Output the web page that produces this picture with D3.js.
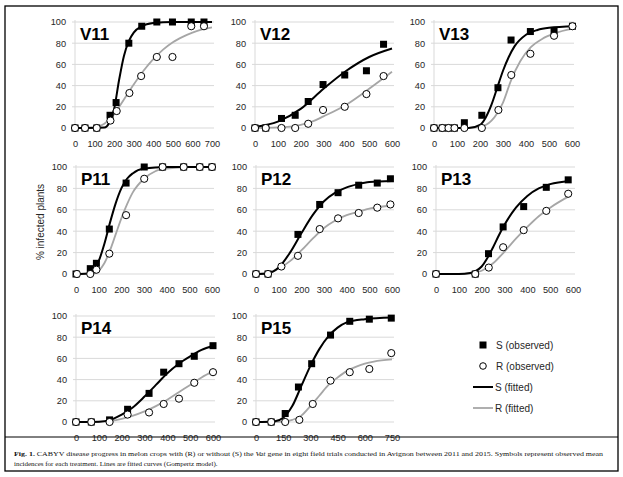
<!DOCTYPE html>
<html><head><meta charset="utf-8">
<script src="https://cdn.jsdelivr.net/npm/d3@7"></script>
<style>body{margin:0;background:#fff}svg{display:block}</style>
</head><body>
<script>
// ---------- DATA ----------
const panelNames = ["V11","V12","V13","P11","P12","P13","P14","P15"];
const xMaxes = [700,600,600,600,600,600,600,750];
const xSteps = [100,100,100,100,100,100,100,150];
const yTicks = [0,20,40,60,80,100];

const v11S = [[0,0],[51,0],[111,0],[179,12],[210,24],[275,80],[341,96],[418,100],[498,100],[594,100],[659,100]];
const v11R = [[0,0],[51,0],[111,0],[181,7],[213,16],[278,33],[338,49],[418,67],[498,67],[594,96],[659,96]];
const v11SFit = [[0,0],[150,0.5],[175,5],[200,18],[225,45],[250,68],[275,82],[300,90],[340,96],[400,99],[500,100],[700,100]];
const v11RFit = [[0,0],[100,0.5],[150,4],[200,13],[250,27],[300,41],[350,54],[400,65],[450,74],[500,81],[550,86],[600,90],[650,93],[700,95]];

const v12S = [[0,0],[47,0],[116,9],[176,12],[233,25],[298,41],[393,50],[488,54],[563,79]];
const v12R = [[0,0],[47,0],[116,0],[176,0],[233,4],[298,17],[393,20],[488,32],[563,49]];
const v12SFit = [[0,1],[100,6],[200,18],[300,37],[400,54],[500,67],[600,75]];
const v12RFit = [[0,0],[100,0.5],[200,3],[250,6],[300,11],[400,22],[500,37],[600,53]];

const v13S = [[0,0],[36,0],[63,0],[89,0],[132,5],[208,12],[278,38],[335,83],[419,91],[522,92],[602,96]];
const v13R = [[0,0],[36,0],[63,0],[89,0],[132,0],[208,0],[280,17],[336,50],[419,70],[522,87],[602,96]];
const v13SFit = [[0,0],[150,0],[200,3],[225,10],[250,22],[275,38],[300,54],[325,67],[350,77],[400,88],[450,92.5],[500,94.5],[610,96]];
const v13RFit = [[0,0],[150,0],[200,1],[250,7],[275,14],[300,24],[335,45],[375,63],[420,76],[470,84],[520,89],[610,94]];

const p11S = [[0,0],[63,5],[90,10],[147,42],[221,85],[301,100],[382,100],[475,100],[546,100],[600,100]];
const p11R = [[4,0],[63,0],[90,4],[147,19],[221,55],[301,89],[382,100],[475,100],[546,100],[600,100]];
const p11SFit = [[0,0],[50,0.5],[75,3],[100,12],[125,28],[150,48],[175,66],[200,80],[225,89],[250,94],[300,98.5],[400,100],[600,100]];
const p11RFit = [[0,0],[75,0.5],[100,3],[125,10],[150,22],[175,37],[200,52],[225,65],[250,76],[300,89],[350,96],[400,98.5],[500,100],[600,100]];

const p12S = [[0,0],[53,0],[185,37],[281,65],[362,76],[453,83],[535,85],[593,89]];
const p12R = [[0,0],[53,0],[112,7],[185,17],[281,42],[362,52],[453,57],[535,62],[593,65]];
const p12SFit = [[0,0],[50,0.5],[100,6],[150,20],[200,38],[250,55],[300,68],[350,76],[400,81],[450,84],[500,86],[600,87]];
const p12RFit = [[0,0],[50,1],[100,5],[150,12],[200,22],[250,33],[300,43],[350,50],[400,55],[450,58],[500,61],[600,64]];

const p13S = [[0,0],[172,0],[230,19],[294,44],[384,63],[483,81],[579,88]];
const p13R = [[0,0],[172,0],[231,6],[294,25],[384,41],[483,59],[579,75]];
const p13SFit = [[0,0],[100,0],[150,1],[175,3],[200,7],[225,15],[250,25],[275,36],[300,46],[350,62],[400,73],[450,80],[500,84],[585,87]];
const p13RFit = [[0,0],[100,0],[150,0.5],[200,3],[250,10],[300,21],[350,33],[400,44],[450,54],[500,62],[585,73]];

const p14S = [[0,0],[67,0],[147,2],[226,12],[320,27],[384,47],[451,55],[518,62],[600,72]];
const p14R = [[0,0],[67,0],[147,0],[226,7],[320,9],[384,17],[451,22],[518,37],[600,47]];
const p14SFit = [[0,0],[100,0.3],[150,2],[200,7],[250,14],[300,24],[350,35],[400,46],[450,55],[500,62],[550,68],[600,72]];
const p14RFit = [[0,0],[100,0],[150,1],[200,3],[250,6],[300,10],[350,15],[400,21],[450,28],[500,35],[550,42],[600,48]];

const p15S = [[0,0],[84,0],[161,8],[234,33],[307,55],[411,82],[517,95],[625,97],[746,98]];
const p15R = [[0,0],[84,0],[161,0],[239,2],[313,17],[411,39],[517,47],[625,50],[746,65]];
const p15SFit = [[0,0],[100,0.5],[150,4],[200,15],[250,34],[300,53],[350,69],[400,81],[450,89],[500,94],[600,97],[750,98.5]];
const p15RFit = [[0,0],[150,0.3],[200,2],[250,6],[300,15],[350,25],[400,35],[450,42],[500,48],[550,52],[600,55],[650,57],[750,59]];

const obsS = [v11S,v12S,v13S,p11S,p12S,p13S,p14S,p15S];
const obsR = [v11R,v12R,v13R,p11R,p12R,p13R,p14R,p15R];
const fitS = [v11SFit,v12SFit,v13SFit,p11SFit,p12SFit,p13SFit,p14SFit,p15SFit];
const fitR = [v11RFit,v12RFit,v13RFit,p11RFit,p12RFit,p13RFit,p14RFit,p15RFit];

const legendLabels = ["S (observed)","R (observed)","S (fitted)","R (fitted)"];
const yAxisTitle = "% infected plants";

// ---------- LAYOUT ----------
const W = 623, H = 477;
const boxes = [
  {x0:75,x1:212,y0:22,y1:128},{x0:255,x1:392,y0:22,y1:128},{x0:434,x1:572,y0:22,y1:128},
  {x0:76,x1:212,y0:167,y1:274},{x0:256,x1:392,y0:167,y1:274},{x0:436,x1:573,y0:167,y1:274},
  {x0:76,x1:213,y0:316,y1:422},{x0:256,x1:392,y0:316,y1:422}
];
const GRID = "#d9d9d9", GRAYLINE = "#a6a6a6", TXT = "#262626";
const SANS = "Liberation Sans, Arial, sans-serif";

const svg = d3.select("body").append("svg").attr("width",W).attr("height",H);
svg.append("rect").attr("width",W).attr("height",H).attr("fill","#fff");

panelNames.forEach((name,i)=>{
  const b = boxes[i];
  const x = d3.scaleLinear().domain([0,xMaxes[i]]).range([b.x0,b.x1]);
  const y = d3.scaleLinear().domain([0,100]).range([b.y1,b.y0]);
  const g = svg.append("g");
  g.selectAll("line.grid").data(yTicks).join("line")
    .attr("x1",b.x0-3).attr("x2",b.x1+2)
    .attr("y1",d=>y(d)).attr("y2",d=>y(d))
    .attr("stroke",GRID).attr("stroke-width",1);
  g.append("line").attr("x1",b.x0).attr("x2",b.x0).attr("y1",b.y0-2).attr("y2",b.y1)
    .attr("stroke",GRID).attr("stroke-width",1);
  const ya = d3.axisLeft(y).tickValues(yTicks).tickSize(0).tickPadding(9);
  const yg = g.append("g").attr("transform",`translate(${b.x0},0)`).call(ya);
  yg.select(".domain").remove();
  yg.selectAll("text").attr("font-family",SANS).attr("font-size",9.2).attr("fill",TXT);
  const xa = d3.axisBottom(x).tickValues(d3.range(0,xMaxes[i]+1,xSteps[i])).tickSize(0).tickPadding(12);
  const xg = g.append("g").attr("transform",`translate(0,${b.y1})`).call(xa);
  xg.select(".domain").remove();
  xg.selectAll("text").attr("font-family",SANS).attr("font-size",9.2).attr("fill",TXT);
  const line = d3.line().x(d=>x(d[0])).y(d=>y(d[1])).curve(d3.curveMonotoneX);
  g.append("path").attr("d",line(fitR[i])).attr("fill","none").attr("stroke",GRAYLINE).attr("stroke-width",1.8);
  g.append("path").attr("d",line(fitS[i])).attr("fill","none").attr("stroke","#000").attr("stroke-width",2);
  g.selectAll("rect.s").data(obsS[i]).join("rect")
    .attr("x",d=>x(d[0])-3.5).attr("y",d=>y(d[1])-3.5).attr("width",7).attr("height",7).attr("fill","#000");
  g.selectAll("circle.r").data(obsR[i]).join("circle")
    .attr("cx",d=>x(d[0])).attr("cy",d=>y(d[1])).attr("r",3.6)
    .attr("fill","#fff").attr("stroke","#000").attr("stroke-width",1);
  g.append("text").attr("x",b.x0+5).attr("y",b.y0+18).text(name)
    .attr("font-family",SANS).attr("font-weight","bold")
    .attr("font-size",17).attr("fill","#000");
});

svg.append("text").attr("transform","translate(44,222) rotate(-90)")
  .attr("text-anchor","middle").attr("font-family",SANS)
  .attr("font-size",10).attr("fill",TXT).text(yAxisTitle);

const lg = svg.append("g");
const lx = 483, lys = [345,366,387,408];
lg.append("rect").attr("x",lx-3.5).attr("y",lys[0]-3.5).attr("width",7).attr("height",7).attr("fill","#000");
lg.append("circle").attr("cx",lx).attr("cy",lys[1]).attr("r",3.3).attr("fill","#fff").attr("stroke","#000");
lg.append("line").attr("x1",473).attr("x2",493).attr("y1",lys[2]).attr("y2",lys[2]).attr("stroke","#000").attr("stroke-width",2);
lg.append("line").attr("x1",473).attr("x2",493).attr("y1",lys[3]).attr("y2",lys[3]).attr("stroke",GRAYLINE).attr("stroke-width",1.8);
legendLabels.forEach((t,k)=>{
  lg.append("text").attr("x",k<2?496:495).attr("y",lys[k]+3.5).text(t)
    .attr("font-family",SANS).attr("font-size",10).attr("fill",TXT);
});

svg.append("rect").attr("x",5).attr("y",6).attr("width",613).attr("height",465)
  .attr("fill","none").attr("stroke","#000").attr("stroke-width",1.3);
svg.append("line").attr("x1",5).attr("x2",618).attr("y1",437).attr("y2",437).attr("stroke","#000").attr("stroke-width",1);
const cap1 = svg.append("text").attr("x",14).attr("y",456)
  .attr("font-family","Liberation Serif, Times New Roman, serif").attr("font-size",7).attr("fill","#111")
  .attr("textLength",589).attr("lengthAdjust","spacingAndGlyphs");
cap1.append("tspan").attr("font-weight","bold").text("Fig. 1.");
cap1.append("tspan").text(" CABYV disease progress in melon crops with (R) or without (S) the ");
cap1.append("tspan").attr("font-style","italic").text("Vat");
cap1.append("tspan").text(" gene in eight field trials conducted in Avignon between 2011 and 2015. Symbols represent observed mean");
svg.append("text").attr("x",14).attr("y",466)
  .attr("font-family","Liberation Serif, Times New Roman, serif").attr("font-size",7).attr("fill","#111")
  .text("incidences for each treatment. Lines are fitted curves (Gompertz model).");
</script>
</body></html>
